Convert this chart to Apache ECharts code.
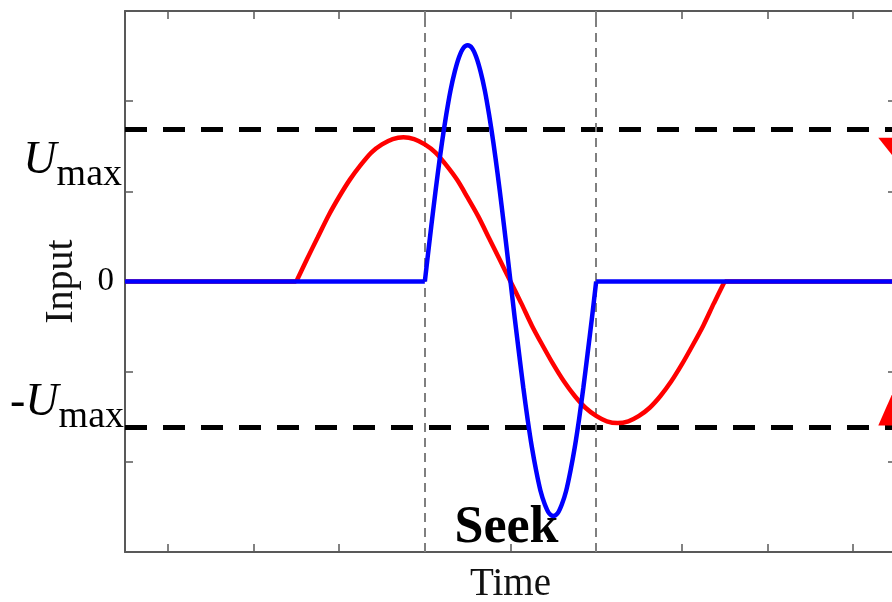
<!DOCTYPE html>
<html>
<head>
<meta charset="utf-8">
<title>Seek input</title>
<script src="https://cdn.jsdelivr.net/npm/echarts@6/dist/echarts.min.js"></script>
<style>
  html, body { margin: 0; padding: 0; background: #fff; }
  #chart { width: 892px; height: 602px; }
</style>
</head>
<body>
<div id="chart"></div>
<script>
// Time axis range (arbitrary units) and tick positions
const timeRange = [0, 9];
const xTicks = [0.5, 1.5, 2.5, 3.5, 4.5, 5.5, 6.5, 7.5, 8.5];
const yTicks = [-3, -2, -1, 0, 1, 2, 3];

// Input limits
const U_MAX = 1.69;
const U_MIN = -1.62;

// Seek window boundaries
const seekBounds = [3.5, 5.5];

// Red input (slow profile), active part
const redTime = [
  2.0, 2.125, 2.25, 2.375, 2.5, 2.625, 2.75, 2.875, 3.0, 3.125, 3.25,
  3.375, 3.5, 3.625, 3.75, 3.875, 4.0, 4.125, 4.25, 4.375, 4.5,
  4.625, 4.75, 4.875, 5.0, 5.125, 5.25, 5.375, 5.5, 5.625, 5.75,
  5.875, 6.0, 6.125, 6.25, 6.375, 6.5, 6.625, 6.75, 6.875, 7.0
];
const redInput = [
  0, 0.25, 0.49, 0.73, 0.94, 1.13, 1.29, 1.43, 1.52, 1.58, 1.60,
  1.58, 1.52, 1.43, 1.29, 1.13, 0.93, 0.72, 0.48, 0.24, 0,
  -0.24, -0.49, -0.71, -0.92, -1.11, -1.27, -1.40, -1.49, -1.55, -1.57,
  -1.55, -1.49, -1.40, -1.27, -1.11, -0.92, -0.71, -0.49, -0.24, 0
];

// Blue input (fast seek profile), active part
const blueTime = [
  3.5, 3.55, 3.6, 3.65, 3.7, 3.75, 3.8, 3.85, 3.9, 3.95, 4.0,
  4.05, 4.1, 4.15, 4.2, 4.25, 4.3, 4.35, 4.4, 4.45, 4.5,
  4.55, 4.6, 4.65, 4.7, 4.75, 4.8, 4.85, 4.9, 4.95, 5.0,
  5.05, 5.1, 5.15, 5.2, 5.25, 5.3, 5.35, 5.4, 5.45, 5.5
];
const blueInput = [
  0, 0.41, 0.81, 1.19, 1.54, 1.85, 2.12, 2.33, 2.49, 2.59, 2.62,
  2.59, 2.49, 2.33, 2.12, 1.85, 1.54, 1.19, 0.81, 0.41, 0,
  -0.41, -0.80, -1.18, -1.53, -1.84, -2.10, -2.32, -2.47, -2.57, -2.60,
  -2.57, -2.47, -2.32, -2.10, -1.84, -1.53, -1.18, -0.80, -0.41, 0
];

// Red arrow heads at the right edge
const arrowDown = [[9.05, 1.44]];
const arrowUp   = [[9.05, -1.32]];

const zip = (xs, ys) => xs.map((x, i) => [x, ys[i]]);
// zero input outside the active part, with a gap over it
const restOf = (xs) => [
  [timeRange[0], 0], [xs[0], 0], [xs[0], '-'],
  [xs[xs.length - 1], 0], [timeRange[1], 0]
];

const SERIF = '"Liberation Serif", "DejaVu Serif", serif';
const AXIS_COLOR = '#595959';
const RED = '#ff0000';
const BLUE = '#0000ff';

const limitRich = {
  m: { fontFamily: SERIF, fontSize: 46, color: '#000', lineHeight: 46, verticalAlign: 'top' },
  u: { fontFamily: SERIF, fontStyle: 'italic', fontSize: 46, color: '#000', lineHeight: 46, verticalAlign: 'top' },
  s: { fontFamily: SERIF, fontSize: 38, color: '#000', lineHeight: 38, verticalAlign: 'top', padding: [18, 0, 0, 0] }
};

const tickStyle = { color: AXIS_COLOR, width: 1.5 };
const lineStyleAxis = { color: AXIS_COLOR, width: 2 };

const chart = echarts.init(document.getElementById('chart'), null, { renderer: 'canvas' });

chart.setOption({
  backgroundColor: '#fff',
  animation: false,
  grid: { left: 125, top: 11, right: -4, bottom: 50, outerBoundsMode: 'none' },
  xAxis: [
    {
      type: 'value', min: timeRange[0], max: timeRange[1], position: 'bottom',
      axisLine: { show: true, onZero: false, lineStyle: lineStyleAxis },
      axisTick: { show: true, inside: true, length: 8, customValues: xTicks, lineStyle: tickStyle },
      axisLabel: { show: false },
      splitLine: { show: false },
      name: 'Time', nameLocation: 'middle', nameGap: 13,
      nameTextStyle: { fontFamily: SERIF, fontSize: 39, color: '#111', verticalAlign: 'top' }
    },
    {
      type: 'value', min: timeRange[0], max: timeRange[1], position: 'top',
      axisLine: { show: true, onZero: false, lineStyle: lineStyleAxis },
      axisTick: { show: true, inside: true, length: 8, customValues: xTicks, lineStyle: tickStyle },
      axisLabel: { show: false },
      splitLine: { show: false }
    }
  ],
  yAxis: [
    {
      type: 'value', min: -3, max: 3, interval: 1, position: 'left',
      axisLine: { show: true, onZero: false, lineStyle: lineStyleAxis },
      axisTick: { show: true, inside: true, length: 8, customValues: yTicks, lineStyle: tickStyle },
      axisLabel: {
        show: true, margin: 11, fontFamily: SERIF, fontSize: 33, color: '#000',
        formatter: v => (v === 0 ? '0' : '')
      },
      splitLine: { show: false },
      name: 'Input', nameLocation: 'middle', nameGap: 44, nameRotate: 90,
      nameTextStyle: { fontFamily: SERIF, fontSize: 40, color: '#111' }
    },
    {
      type: 'value', min: -3, max: 3, interval: 1, position: 'right',
      axisLine: { show: true, onZero: false, lineStyle: lineStyleAxis },
      axisTick: { show: true, inside: true, length: 8, customValues: yTicks, lineStyle: tickStyle },
      axisLabel: { show: false },
      splitLine: { show: false }
    }
  ],
  series: [
    {
      // guide lines: input limits, seek window
      name: 'guides', type: 'line', data: [], silent: true, z: 1,
      markLine: {
        z: 1, silent: true, symbol: 'none', animation: false,
        data: [
          {
            yAxis: U_MAX,
            lineStyle: { color: '#000', width: 5, type: [22, 16] },
            label: {
              show: true, position: 'start', distance: 3, offset: [0, 32],
              formatter: '{u|U}{s|max}', rich: limitRich
            }
          },
          {
            yAxis: U_MIN,
            lineStyle: { color: '#000', width: 5, type: [22, 16] },
            label: {
              show: true, position: 'start', distance: 1, offset: [0, -25],
              formatter: '{m|-}{u|U}{s|max}', rich: limitRich
            }
          },
          {
            xAxis: seekBounds[0],
            lineStyle: { color: '#7f7f7f', width: 2, type: [9, 6] },
            label: { show: false }
          },
          {
            xAxis: seekBounds[1],
            lineStyle: { color: '#7f7f7f', width: 2, type: [9, 6] },
            label: { show: false }
          }
        ]
      },
      markArea: {
        z: 1, silent: true,
        itemStyle: { color: 'rgba(0,0,0,0)' },
        label: {
          show: true, position: 'insideBottom', distance: 0, offset: [-4, 3],
          fontFamily: SERIF, fontWeight: 'bold', fontSize: 52, lineHeight: 52, color: '#000'
        },
        data: [[{ xAxis: seekBounds[0], name: 'Seek' }, { xAxis: seekBounds[1] }]]
      }
    },
    {
      name: 'slow rest', type: 'line', z: 2, data: restOf(redTime), connectNulls: false,
      showSymbol: false, symbol: 'none', lineStyle: { color: RED, width: 4.5 }
    },
    {
      name: 'slow', type: 'line', z: 2, data: zip(redTime, redInput),
      smooth: 0.3, showSymbol: false, symbol: 'none',
      lineStyle: { color: RED, width: 4.5 }
    },
    {
      name: 'seek rest', type: 'line', z: 3, data: restOf(blueTime), connectNulls: false,
      showSymbol: false, symbol: 'none', lineStyle: { color: BLUE, width: 4.5 }
    },
    {
      name: 'seek', type: 'line', z: 3, data: zip(blueTime, blueInput),
      smooth: 0.3, showSymbol: false, symbol: 'none',
      lineStyle: { color: BLUE, width: 4.5 }
    },
    {
      name: 'arrowDown', type: 'scatter', z: 4, clip: false, silent: true,
      data: arrowDown, symbol: 'triangle', symbolRotate: 180, symbolSize: [44, 28],
      itemStyle: { color: RED, opacity: 1 }
    },
    {
      name: 'arrowUp', type: 'scatter', z: 4, clip: false, silent: true,
      data: arrowUp, symbol: 'triangle', symbolSize: [44, 50],
      itemStyle: { color: RED, opacity: 1 }
    }
  ]
});
</script>
</body>
</html>
